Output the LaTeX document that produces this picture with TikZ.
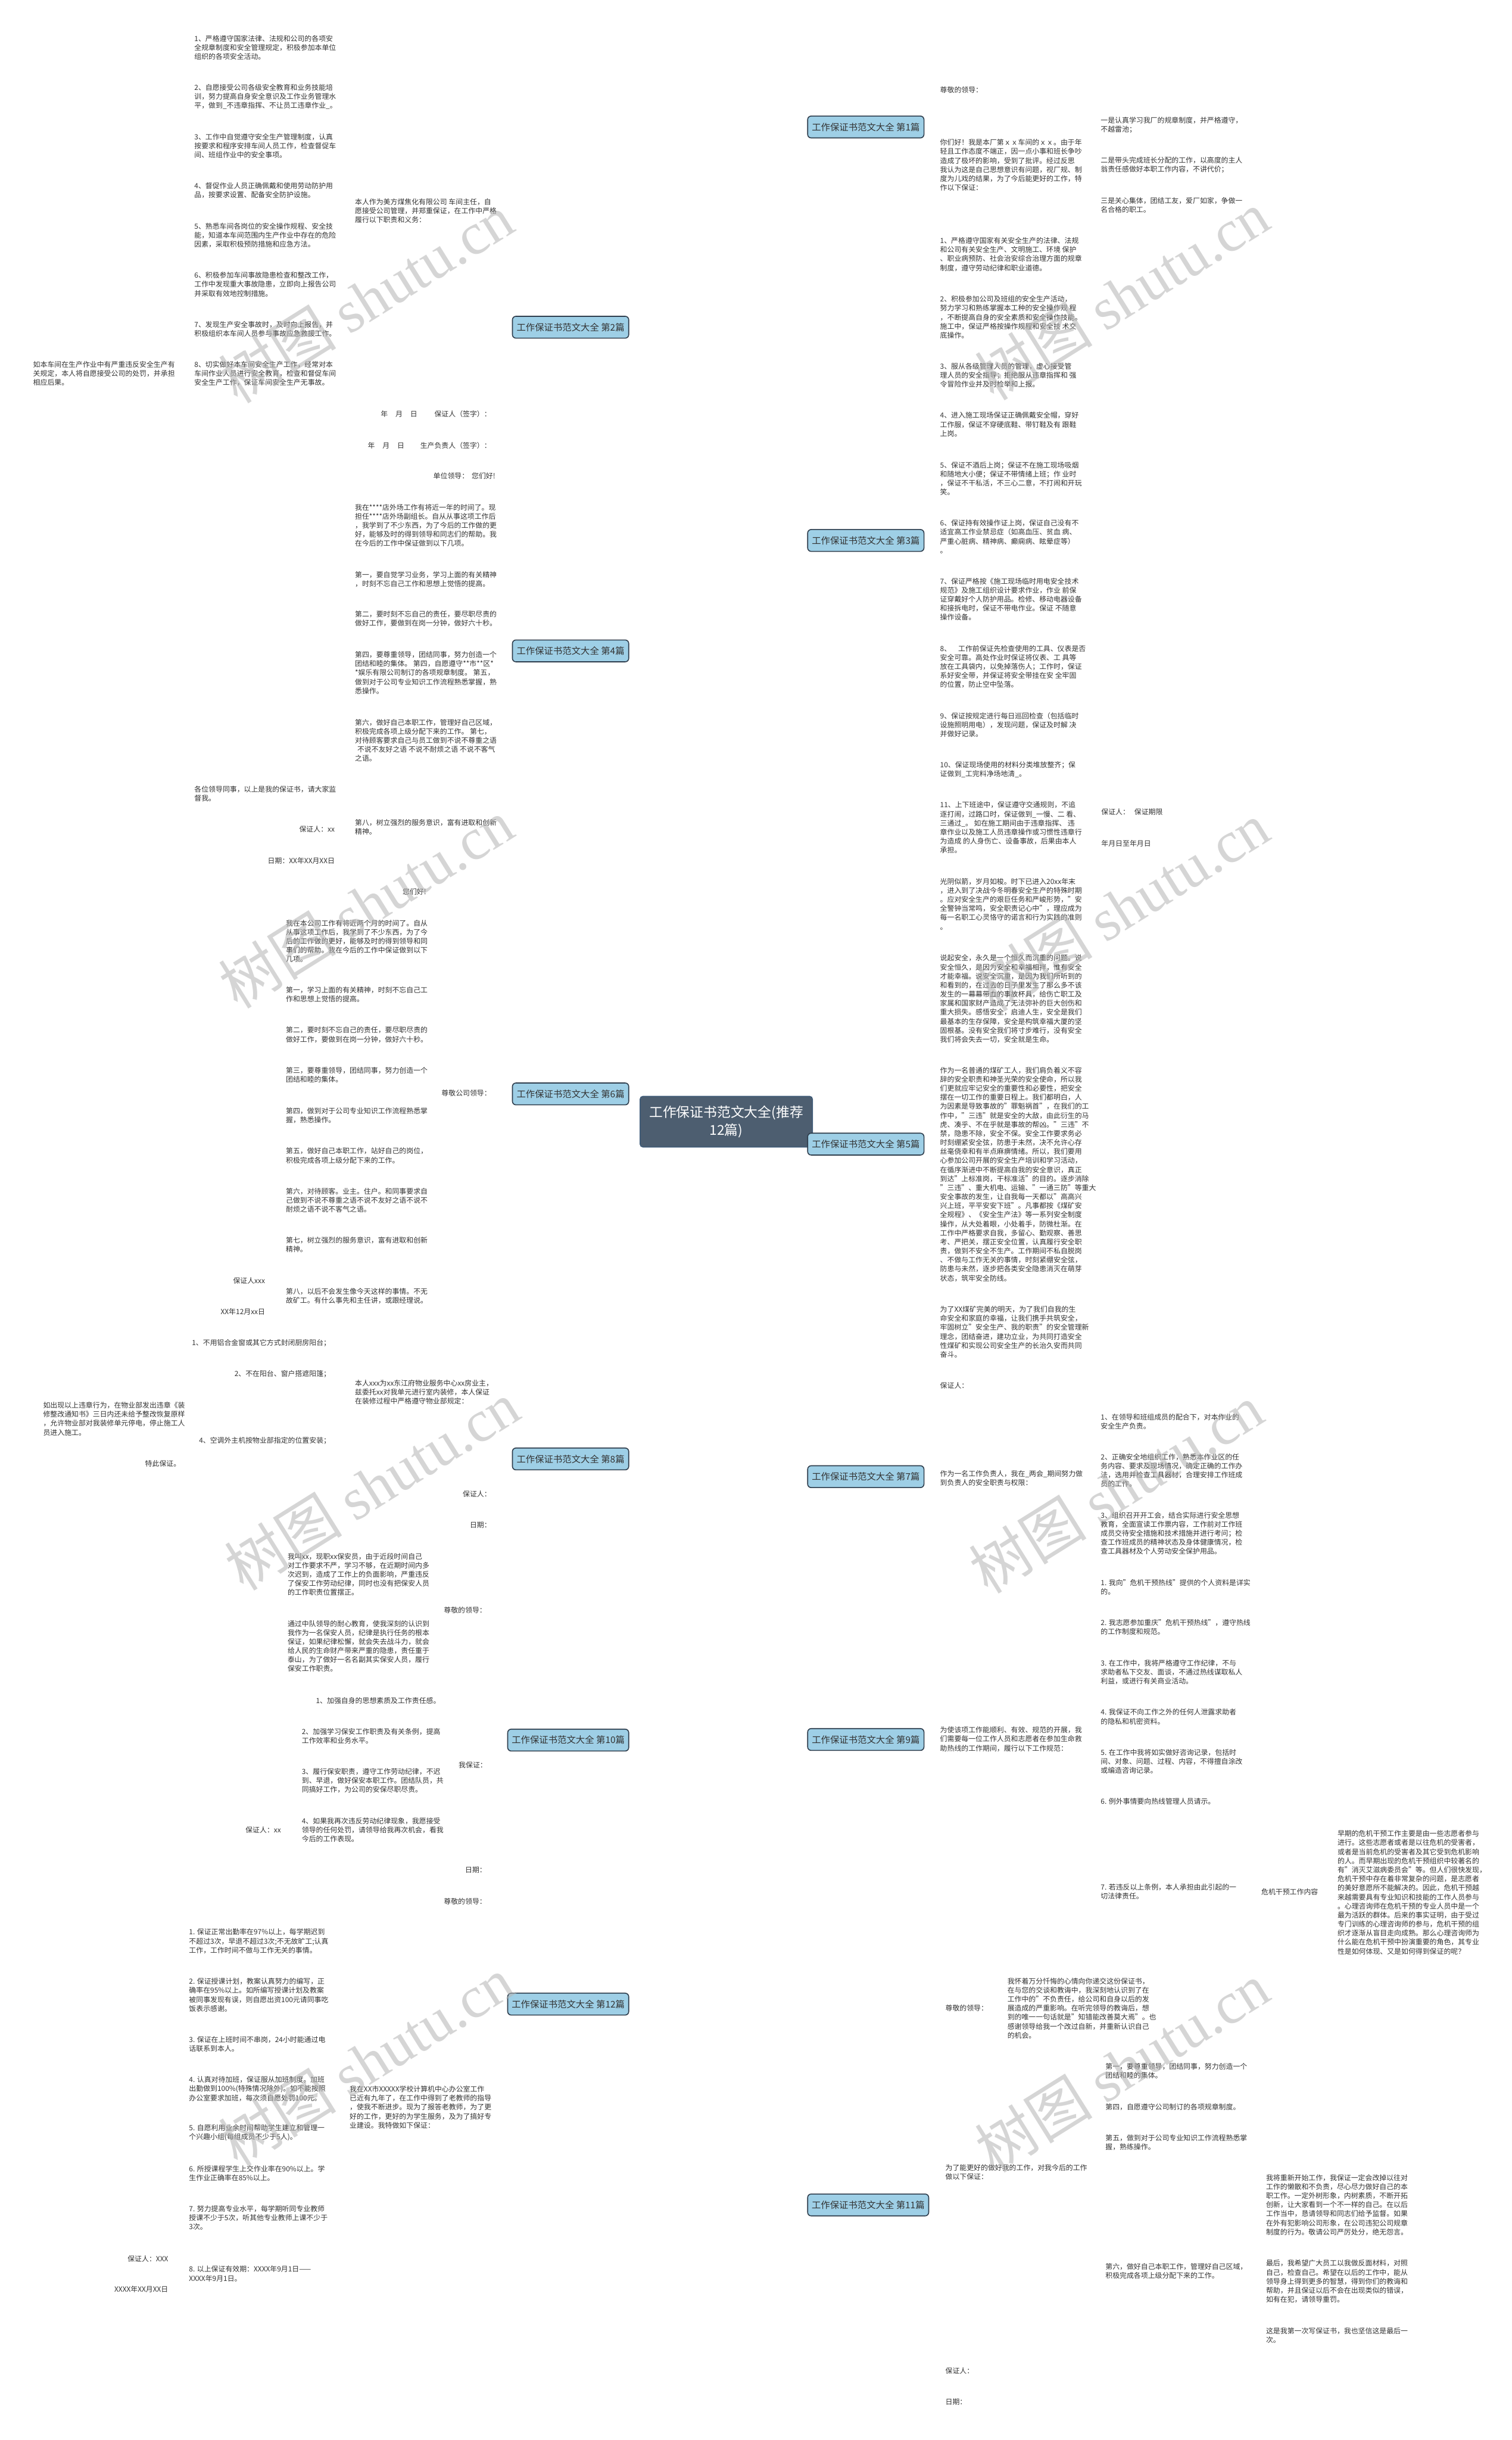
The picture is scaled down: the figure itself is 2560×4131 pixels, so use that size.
\documentclass[tikz,border=0pt]{standalone}
\usepackage{fontspec}
\setmainfont{Noto Sans CJK SC}
\newfontfamily\wmserif{Liberation Serif}
\usetikzlibrary{calc,backgrounds}

\definecolor{linec}{HTML}{2E3D4C}
\definecolor{boxfill}{HTML}{9ECFE6}
\definecolor{rootfill}{HTML}{4D5E70}
\definecolor{rootedge}{HTML}{3D5A78}
\definecolor{textc}{HTML}{333333}
\definecolor{markc}{HTML}{B4B4B4}

\tikzset{
  topic/.style={draw=linec, fill=boxfill, line width=1.6pt, rounded corners=6pt, minimum width=197pt, minimum height=37pt, inner xsep=6pt, font=\fontsize{15.5}{18}\selectfont, text=textc},
  note/.style={align=left, inner xsep=4pt, inner ysep=2pt, font=\fontsize{12}{15.3}\selectfont, text=textc},
  hub/.style={line width=3pt, draw=linec, to path={let \p1=(\tikztostart), \p2=(\tikztotarget) in .. controls (\x1,{0.5*\y1+0.5*\y2}) and ({0.5*\x1+0.5*\x2},\y2) .. (\tikztotarget)}},
  twig/.style={line width=1.6pt, draw=linec, to path={let \p1=(\tikztostart), \p2=(\tikztotarget) in .. controls ({0.5*\x1+0.5*\x2},\y1) and ({0.5*\x1+0.5*\x2},\y2) .. (\tikztotarget)}},
  stem/.style={line width=1.6pt, draw=linec},
  wmark/.style={rotate=32, text=markc, text opacity=0.55, font=\fontsize{100}{100}\selectfont}
}

\begin{document}
\begin{tikzpicture}[x=1pt, y=-1pt]
  \fill[white] (0,0) rectangle (2560,4131);
  \useasboundingbox (0,0) rectangle (2560,4131);

  % centre topic
  \node[fill=rootfill, draw=rootedge, line width=1.5pt, rounded corners=5pt, text=white, align=center, minimum width=292pt, minimum height=86pt, font=\fontsize{23}{31}\selectfont] (root) at (1230,1899) {工作保证书范文大全(推荐\\12篇)};

  % branch topics, left
  \node[topic, anchor=west] (p2) at (867,554) {工作保证书范文大全 第2篇};
  \node[topic, anchor=west] (p4) at (867,1102) {工作保证书范文大全 第4篇};
  \node[topic, anchor=west] (p6) at (867,1852) {工作保证书范文大全 第6篇};
  \node[topic, anchor=west] (p8) at (867,2470) {工作保证书范文大全 第8篇};
  \node[topic, anchor=west, minimum width=205pt] (p10) at (859,2946) {工作保证书范文大全 第10篇};
  \node[topic, anchor=west, minimum width=205pt] (p12) at (859,3393) {工作保证书范文大全 第12篇};

  % branch topics, right
  \node[topic, anchor=west] (p1) at (1367,215) {工作保证书范文大全 第1篇};
  \node[topic, anchor=west] (p3) at (1367,915) {工作保证书范文大全 第3篇};
  \node[topic, anchor=west] (p5) at (1367,1937) {工作保证书范文大全 第5篇};
  \node[topic, anchor=west] (p7) at (1367,2500) {工作保证书范文大全 第7篇};
  \node[topic, anchor=west] (p9) at (1367,2945) {工作保证书范文大全 第9篇};
  \node[topic, anchor=west, minimum width=205pt] (p11) at (1367,3733) {工作保证书范文大全 第11篇};

  % 第2篇
  \node[note, anchor=west] (p2a) at (597,357) {本人作为美方煤焦化有限公司 车间主任，自\\愿接受公司管理，并郑重保证，在工作中严格\\履行以下职责和义务：};
  \node[note, anchor=west] (p2a1) at (325,80.5) {1、严格遵守国家法律、法规和公司的各项安\\全规章制度和安全管理规定，积极参加本单位\\组织的各项安全活动。};
  \node[note, anchor=west] (p2a2) at (325,163.5) {2、自愿接受公司各级安全教育和业务技能培\\训，努力提高自身安全意识及工作业务管理水\\平，做到\_不违章指挥、不让员工违章作业\_。};
  \node[note, anchor=west] (p2a3) at (325,247) {3、工作中自觉遵守安全生产管理制度，认真\\按要求和程序安排车间人员工作，检查督促车\\间、班组作业中的安全事项。};
  \node[note, anchor=west] (p2a4) at (325,322.5) {4、督促作业人员正确佩戴和使用劳动防护用\\品，按要求设置、配备安全防护设施。};
  \node[note, anchor=west] (p2a5) at (325,398.5) {5、熟悉车间各岗位的安全操作规程、安全技\\能，知道本车间范围内生产作业中存在的危险\\因素，采取积极预防措施和应急方法。};
  \node[note, anchor=west] (p2a6) at (325,481.5) {6、积极参加车间事故隐患检查和整改工作，\\工作中发现重大事故隐患，立即向上报告公司\\并采取有效地控制措施。};
  \node[note, anchor=west] (p2a7) at (325,557.5) {7、发现生产安全事故时，及时向上报告，并\\积极组织本车间人员参与事故应急救援工作。};
  \node[note, anchor=west] (p2a8) at (325,632.5) {8、切实做好本车间安全生产工作，经常对本\\车间作业人员进行安全教育，检查和督促车间\\安全生产工作，保证车间安全生产无事故。};
  \node[note, anchor=west] (p2a8a) at (52,632.5) {如本车间在生产作业中有严重违反安全生产有\\关规定，本人将自愿接受公司的处罚，并承担\\相应后果。};
  \node[note, anchor=east] (p2b) at (836,701) {保证人（签字）：};
  \node[note, anchor=east] (p2b1) at (711,701) {年\hspace{13pt}月\hspace{13pt}日};
  \node[note, anchor=east] (p2c) at (836,754) {生产负责人（签字）：};
  \node[note, anchor=east] (p2c1) at (689,754) {年\hspace{13pt}月\hspace{13pt}日};

  % 第4篇
  \node[note, anchor=east] (p4a) at (843,806) {单位领导：\hspace{5pt}您们好!};
  \node[note, anchor=west] (p4b) at (597,889.5) {我在****店外场工作有将近一年的时间了。现\\担任****店外场副组长。自从从事这项工作后\\，我学到了不少东西，为了今后的工作做的更\\好，能够及时的得到领导和同志们的帮助。我\\在今后的工作中保证做到以下几项。};
  \node[note, anchor=west] (p4c) at (597,980.5) {第一，要自觉学习业务，学习上面的有关精神\\，时刻不忘自己工作和思想上觉悟的提高。};
  \node[note, anchor=west] (p4d) at (597,1047.5) {第二，要时刻不忘自己的责任，要尽职尽责的\\做好工作，要做到在岗一分钟，做好六十秒。};
  \node[note, anchor=west] (p4e) at (597,1139) {第四，要尊重领导，团结同事，努力创造一个\\团结和睦的集体。 第四，自愿遵守**市**区*\\{}*娱乐有限公司制订的各项规章制度。 第五，\\做到对于公司专业知识工作流程熟悉掌握，熟\\悉操作。};
  \node[note, anchor=west] (p4f) at (597,1253.5) {第六，做好自己本职工作，管理好自己区域，\\积极完成各项上级分配下来的工作。 第七，\\对待顾客要求自己与员工做到不说不尊重之语\\\hspace*{4pt}不说不友好之语 不说不耐烦之语 不说不客气\\之语。};
  \node[note, anchor=west] (p4g) at (597,1400) {第八，树立强烈的服务意识，富有进取和创新\\精神。};
  \node[note, anchor=west] (p4g1) at (325,1343.5) {各位领导同事，以上是我的保证书，请大家监\\督我。};
  \node[note, anchor=east] (p4g2) at (571,1404) {保证人：xx};
  \node[note, anchor=east] (p4g3) at (571,1457) {日期：XX年XX月XX日};

  % 第6篇
  \node[note, anchor=east] (p6a) at (836,1851) {尊敬公司领导：};
  \node[note, anchor=east] (p6a1) at (726,1510) {您们好!};
  \node[note, anchor=west] (p6a2) at (480,1593.5) {我在本公司工作有将近两个月的时间了。自从\\从事这项工作后，我学到了不少东西，为了今\\后的工作做的更好，能够及时的得到领导和同\\事们的帮助。我在今后的工作中保证做到以下\\几项。};
  \node[note, anchor=west] (p6a3) at (480,1683.5) {第一，学习上面的有关精神，时刻不忘自己工\\作和思想上觉悟的提高。};
  \node[note, anchor=west] (p6a4) at (480,1752) {第二，要时刻不忘自己的责任，要尽职尽责的\\做好工作，要做到在岗一分钟，做好六十秒。};
  \node[note, anchor=west] (p6a5) at (480,1820) {第三，要尊重领导，团结同事，努力创造一个\\团结和睦的集体。};
  \node[note, anchor=west] (p6a6) at (480,1888.5) {第四，做到对于公司专业知识工作流程熟悉掌\\握，熟悉操作。};
  \node[note, anchor=west] (p6a7) at (480,1956.5) {第五，做好自己本职工作，站好自己的岗位，\\积极完成各项上级分配下来的工作。};
  \node[note, anchor=west] (p6a8) at (480,2032) {第六，对待顾客。业主。住户。和同事要求自\\己做到不说不尊重之语不说不友好之语不说不\\耐烦之语不说不客气之语。};
  \node[note, anchor=west] (p6a9) at (480,2107.5) {第七，树立强烈的服务意识，富有进取和创新\\精神。};
  \node[note, anchor=west] (p6a10) at (480,2194.5) {第八，以后不会发生像今天这样的事情。不无\\故矿工。有什么事先和主任讲，或跟经理说。};
  \node[note, anchor=east] (p6a10a) at (453,2168) {保证人xxx};
  \node[note, anchor=east] (p6a10b) at (453,2221) {XX年12月xx日};

  % 第8篇
  \node[note, anchor=west] (p8a) at (597,2357) {本人xxx为xx东江府物业服务中心xx房业主，\\兹委托xx对我单元进行室内装修，本人保证\\在装修过程中严格遵守物业部规定：};
  \node[note, anchor=east] (p8a1) at (564,2274) {1、不用铝合金窗或其它方式封闭厨房阳台；};
  \node[note, anchor=east] (p8a2) at (564,2326) {2、不在阳台、窗户搭遮阳篷；};
  \node[note, anchor=east] (p8a3) at (564,2439) {4、空调外主机按物业部指定的位置安装；};
  \node[note, anchor=west] (p8a3a) at (69,2402) {如出现以上违章行为，在物业部发出违章《装\\修整改通知书》三日内还未给予整改恢复原样\\，允许物业部对我装修单元停电，停止施工人\\员进入施工。};
  \node[note, anchor=east] (p8a3b) at (310,2478) {特此保证。};
  \node[note, anchor=east] (p8b) at (836,2529) {保证人：};
  \node[note, anchor=east] (p8c) at (836,2582) {日期：};

  % 第10篇
  \node[note, anchor=east] (p10a) at (828,2726) {尊敬的领导：};
  \node[note, anchor=west] (p10a1) at (483,2665.5) {我叫xx，现职xx保安员，由于近段时间自己\\对工作要求不严，学习不够，在近期时间内多\\次迟到，造成了工作上的负面影响，严重违反\\了保安工作劳动纪律，同时也没有把保安人员\\的工作职责位置摆正。};
  \node[note, anchor=west] (p10a2) at (483,2787) {通过中队领导的耐心教育，使我深刻的认识到\\我作为一名保安人员，纪律是执行任务的根本\\保证，如果纪律松懈，就会失去战斗力，就会\\给人民的生命财产带来严重的隐患，责任重于\\泰山，为了做好一名名副其实保安人员，履行\\保安工作职责。};
  \node[note, anchor=east] (p10b) at (829,2988) {我保证：};
  \node[note, anchor=east] (p10b1) at (750,2879) {1、加强自身的思想素质及工作责任感。};
  \node[note, anchor=west] (p10b2) at (507,2939.5) {2、加强学习保安工作职责及有关条例，提高\\工作效率和业务水平。};
  \node[note, anchor=west] (p10b3) at (507,3014.5) {3、履行保安职责，遵守工作劳动纪律，不迟\\到、早退，做好保安本职工作。团结队员，共\\同搞好工作，为公司的安保尽职尽责。};
  \node[note, anchor=west] (p10b4) at (507,3098) {4、如果我再次违反劳动纪律现象，我愿接受\\领导的任何处罚，请领导给我再次机会，看我\\今后的工作表现。};
  \node[note, anchor=east] (p10b4a) at (480,3098) {保证人：xx};
  \node[note, anchor=east] (p10c) at (828,3166) {日期：};

  % 第12篇
  \node[note, anchor=east] (p12a) at (828,3219) {尊敬的领导：};
  \node[note, anchor=west] (p12b) at (588,3567.5) {我在XX市XXXXX学校计算机中心办公室工作\\已近有九年了，在工作中得到了老教师的指导\\，使我不断进步。现为了报答老教师，为了更\\好的工作，更好的为学生服务，及为了搞好专\\业建设。我特做如下保证：};
  \node[note, anchor=west] (p12b1) at (316,3286.5) {1. 保证正常出勤率在97\%以上，每学期迟到\\不超过3次，早退不超过3次;不无故旷工;认真\\工作，工作时间不做与工作无关的事情。};
  \node[note, anchor=west] (p12b2) at (316,3377.5) {2. 保证授课计划，教案认真努力的编写，正\\确率在95\%以上。如所编写授课计划及教案\\被同事发现有误，则自愿出资100元请同事吃\\饭表示感谢。};
  \node[note, anchor=west] (p12b3) at (316,3461) {3. 保证在上班时间不串岗，24小时能通过电\\话联系到本人。};
  \node[note, anchor=west] (p12b4) at (316,3536.5) {4. 认真对待加班，保证服从加班制度。加班\\出勤做到100\%(特殊情况除外)。如不能按照\\办公室要求加班，每次须自愿处罚100元。};
  \node[note, anchor=west] (p12b5) at (316,3611) {5. 自愿利用业余时间帮助学生建立和管理一\\个兴趣小组(每组成员不少于5人)。};
  \node[note, anchor=west] (p12b6) at (316,3679.5) {6. 所授课程学生上交作业率在90\%以上。学\\生作业正确率在85\%以上。};
  \node[note, anchor=west] (p12b7) at (316,3754.5) {7. 努力提高专业水平，每学期听同专业教师\\授课不少于5次，听其他专业教师上课不少于\\3次。};
  \node[note, anchor=west] (p12b8) at (316,3849.5) {8. 以上保证有效期：XXXX年9月1日——\\XXXX年9月1日。};
  \node[note, anchor=east] (p12b8a) at (289,3824) {保证人：XXX};
  \node[note, anchor=east] (p12b8b) at (289,3876) {XXXX年XX月XX日};

  % 第1篇
  \node[note, anchor=west] (p1a) at (1588,152) {尊敬的领导：};
  \node[note, anchor=west] (p1b) at (1588,279.5) {你们好！我是本厂第ｘｘ车间的ｘｘ。由于年\\轻且工作态度不端正，因一点小事和班长争吵\\造成了极坏的影响，受到了批评。经过反思\\我认为这是自己思想意识有问题，视厂规、制\\度为儿戏的结果，为了今后能更好的工作，特\\作以下保证：};
  \node[note, anchor=west] (p1b1) at (1860,212) {一是认真学习我厂的规章制度，并严格遵守，\\不越雷池；};
  \node[note, anchor=west] (p1b2) at (1860,279.5) {二是带头完成班长分配的工作，以高度的主人\\翁责任感做好本职工作内容，不讲代价；};
  \node[note, anchor=west] (p1b3) at (1860,347.5) {三是关心集体，团结工友，爱厂如家，争做一\\名合格的职工。};

  % 第3篇
  \node[note, anchor=west] (p3a) at (1588,430.5) {1、严格遵守国家有关安全生产的法律、法规\\和公司有关安全生产、文明施工、环境 保护\\、职业病预防、社会治安综合治理方面的规章\\制度，遵守劳动纪律和职业道德。};
  \node[note, anchor=west] (p3b) at (1588,537) {2、积极参加公司及班组的安全生产活动，\\努力学习和熟练掌握本工种的安全操作规 程\\，不断提高自身的安全素质和安全操作技能。\\施工中，保证严格按操作规程和安全技 术交\\底操作。};
  \node[note, anchor=west] (p3c) at (1588,635.5) {3、服从各级管理人员的管理，虚心接受管\\理人员的安全指导；拒绝服从违章指挥和 强\\令冒险作业并及时检举和上报。};
  \node[note, anchor=west] (p3d) at (1588,718.5) {4、进入施工现场保证正确佩戴安全帽，穿好\\工作服，保证不穿硬底鞋、带钉鞋及有 跟鞋\\上岗。};
  \node[note, anchor=west] (p3e) at (1588,810.5) {5、保证不酒后上岗；保证不在施工现场吸烟\\和随地大小便；保证不带情绪上班；作 业时\\，保证不干私活，不三心二意，不打闹和开玩\\笑。};
  \node[note, anchor=west] (p3f) at (1588,908.5) {6、保证持有效操作证上岗，保证自己没有不\\适宜高工作业禁忌症（如高血压、贫血 病、\\严重心脏病、精神病、癫痫病、眩晕症等）\\。};
  \node[note, anchor=west] (p3g) at (1588,1014.5) {7、保证严格按《施工现场临时用电安全技术\\规范》及施工组织设计要求作业，作业 前保\\证穿戴好个人防护用品。检修、移动电器设备\\和接拆电时，保证不带电作业。保证 不随意\\操作设备。};
  \node[note, anchor=west] (p3h) at (1588,1128.5) {8、\hspace{12pt}工作前保证先检查使用的工具、仪表是否\\安全可靠。高处作业时保证将仪表、工 具等\\放在工具袋内，以免掉落伤人；工作时，保证\\系好安全带，并保证将安全带挂在安 全牢固\\的位置，防止空中坠落。};
  \node[note, anchor=west] (p3i) at (1588,1227) {9、保证按规定进行每日巡回检查（包括临时\\设施照明用电），发现问题，保证及时解 决\\并做好记录。};
  \node[note, anchor=west] (p3j) at (1588,1303) {10、保证现场使用的材料分类堆放整齐；保\\证做到\_工完料净场地清\_。};
  \node[note, anchor=west] (p3k) at (1588,1401) {11、上下班途中，保证遵守交通规则，不追\\逐打闹，过路口时，保证做到\_一慢、二 看、\\三通过\_。 如在施工期间由于违章指挥、 违\\章作业以及施工人员违章操作或习惯性违章行\\为造成 的人身伤亡、设备事故，后果由本人\\承担。};
  \node[note, anchor=west] (p3k1) at (1861,1375) {保证人：\hspace{8pt}保证期限};
  \node[note, anchor=west] (p3k2) at (1861,1428) {年月日至年月日};

  % 第5篇
  \node[note, anchor=west] (p5a) at (1588,1530.5) {光阴似箭，岁月如梭。时下已进入20xx年末\\，进入到了决战今冬明春安全生产的特殊时期\\。应对安全生产的艰巨任务和严峻形势，"安\\全警钟当常鸣，安全职责记心中"，理应成为\\每一名职工心灵恪守的诺言和行为实践的准则\\。};
  \node[note, anchor=west] (p5b) at (1588,1691) {说起安全，永久是一个恒久而沉重的问题。说\\安全恒久，是因为安全和幸福相拌，惟有安全\\才能幸福。说安全沉重，是因为我们所听到的\\和看到的，在过去的日子里发生了那么多不该\\发生的一幕幕带血的事故杯具，给伤亡职工及\\家属和国家财产造成了无法弥补的巨大创伤和\\重大损失。感悟安全，启迪人生，安全是我们\\最基本的生存保障，安全是构筑幸福大厦的坚\\固根基。没有安全我们将寸步难行，没有安全\\我们将会失去一切，安全就是生命。};
  \node[note, anchor=west] (p5c) at (1588,1988) {作为一名普通的煤矿工人，我们肩负着义不容\\辞的安全职责和神圣光荣的安全使命，所以我\\们更就应牢记安全的重要性和必要性，把安全\\摆在一切工作的重要日程上。我们都明白，人\\为因素是导致事故的"罪魁祸首"，在我们的工\\作中，"三违"就是安全的大敌，由此衍生的马\\虎、凑乎、不在乎就是事故的帮凶。"三违"不\\禁，隐患不除，安全不保。安全工作要求务必\\时刻绷紧安全弦，防患于未然，决不允许心存\\丝毫侥幸和有半点麻痹情绪。所以，我们要用\\心参加公司开展的安全生产培训和学习活动，\\在循序渐进中不断提高自我的安全意识，真正\\到达"上标准岗，干标准活"的目的。逐步消除\\"三违"、重大机电、运输、"一通三防"等重大\\安全事故的发生，让自我每一天都以"高高兴\\兴上班，平平安安下班"。凡事都按《煤矿安\\全规程》、《安全生产法》等一系列安全制度\\操作，从大处着眼，小处着手，防微杜渐。在\\工作中严格要求自我，多留心、勤观察、善思\\考、严把关，摆正安全位置，认真履行安全职\\责，做到不安全不生产。工作期间不私自脱岗\\、不做与工作无关的事情，时刻紧绷安全弦，\\防患与未然，逐步把各类安全隐患消灭在萌芽\\状态，筑牢安全防线。};
  \node[note, anchor=west] (p5d) at (1588,2255) {为了XX煤矿完美的明天，为了我们自我的生\\命安全和家庭的幸福，让我们携手共筑安全，\\牢固树立"安全生产、我的职责"的安全管理新\\理念，团结奋进，建功立业，为共同打造安全\\性煤矿和实现公司安全生产的长治久安而共同\\奋斗。};
  \node[note, anchor=west] (p5e) at (1588,2346) {保证人：};

  % 第7篇
  \node[note, anchor=west] (p7a) at (1588,2502.5) {作为一名工作负责人，我在\_两会\_期间努力做\\到负责人的安全职责与权限：};
  \node[note, anchor=west] (p7a1) at (1860,2407) {1、在领导和班组成员的配合下，对本作业的\\安全生产负责。};
  \node[note, anchor=west] (p7a2) at (1860,2489.5) {2、正确安全地组织工作，熟悉本作业区的任\\务内容、要求及现场情况，确定正确的工作办\\法，选用并检查工具器材，合理安排工作班成\\员的工作。};
  \node[note, anchor=west] (p7a3) at (1860,2596) {3、组织召开开工会，结合实际进行安全思想\\教育，全面宣读工作票内容，工作前对工作班\\成员交待安全措施和技术措施并进行考问；检\\查工作班成员的精神状态及身体健康情况，检\\查工具器材及个人劳动安全保护用品。};

  % 第9篇
  \node[note, anchor=west] (p9a) at (1588,2944.5) {为使该项工作能顺利、有效、规范的开展，我\\们需要每一位工作人员和志愿者在参加生命救\\助热线的工作期间，履行以下工作规范：};
  \node[note, anchor=west] (p9a1) at (1860,2687) {1. 我向"危机干预热线"提供的个人资料是详实\\的。};
  \node[note, anchor=west] (p9a2) at (1860,2755) {2. 我志愿参加重庆"危机干预热线"，遵守热线\\的工作制度和规范。};
  \node[note, anchor=west] (p9a3) at (1860,2831) {3. 在工作中，我将严格遵守工作纪律，不与\\求助者私下交友、面谈，不通过热线谋取私人\\利益，或进行有关商业活动。};
  \node[note, anchor=west] (p9a4) at (1860,2906.5) {4. 我保证不向工作之外的任何人泄露求助者\\的隐私和机密资料。};
  \node[note, anchor=west] (p9a5) at (1860,2982.5) {5. 在工作中我将如实做好咨询记录，包括时\\间、对象、问题、过程、内容，不得擅自涂改\\或编造咨询记录。};
  \node[note, anchor=west] (p9a6) at (1860,3050) {6. 例外事情要向热线管理人员请示。};
  \node[note, anchor=west] (p9a7) at (1860,3202.5) {7. 若违反以上条例，本人承担由此引起的一\\切法律责任。};
  \node[note, anchor=west] (p9a7a) at (2132,3203) {危机干预工作内容};
  \node[note, anchor=west] (p9a7a1) at (2261,3204) {早期的危机干预工作主要是由一些志愿者参与\\进行。这些志愿者或者是以往危机的受害者，\\或者是当前危机的受害者及其它受到危机影响\\的人。而早期出现的危机干预组织中较著名的\\有"消灭艾滋病委员会"等。但人们很快发现，\\危机干预中存在着非常复杂的问题，是志愿者\\的美好意愿所不能解决的。因此，危机干预越\\来越需要具有专业知识和技能的工作人员参与\\。心理咨询师在危机干预的专业人员中是一个\\最为活跃的群体。后来的事实证明，由于受过\\专门训练的心理咨询师的参与，危机干预的组\\织才逐渐从盲目走向成熟。那么心理咨询师为\\什么能在危机干预中扮演重要的角色，其专业\\性是如何体现、又是如何得到保证的呢？};

  % 第11篇
  \node[note, anchor=west] (p11a) at (1597,3400) {尊敬的领导：};
  \node[note, anchor=west] (p11a1) at (1702,3400) {我怀着万分忏悔的心情向你递交这份保证书，\\在与您的交谈和教诲中，我深刻地认识到了在\\工作中的"不负责任，给公司和自身以后的发\\展造成的严重影响。在听完领导的教诲后，想\\到的唯一一句话就是"知错能改善莫大焉"。也\\感谢领导给我一个改过自新，并重新认识自己\\的机会。};
  \node[note, anchor=west] (p11b) at (1597,3677.5) {为了能更好的做好我的工作，对我今后的工作\\做以下保证：};
  \node[note, anchor=west] (p11b1) at (1868,3506.5) {第一，要尊重领导，团结同事，努力创造一个\\团结和睦的集体。};
  \node[note, anchor=west] (p11b2) at (1868,3567) {第四，自愿遵守公司制订的各项规章制度。};
  \node[note, anchor=west] (p11b3) at (1868,3627.5) {第五，做到对于公司专业知识工作流程熟悉掌\\握，熟练操作。};
  \node[note, anchor=west] (p11b4) at (1868,3845) {第六，做好自己本职工作，管理好自己区域，\\积极完成各项上级分配下来的工作。};
  \node[note, anchor=west] (p11b4a) at (2140,3733) {我将重新开始工作，我保证一定会改掉以往对\\工作的懒散和不负责，尽心尽力做好自己的本\\职工作。一定外树形象，内树素质，不断开拓\\创新，让大家看到一个不一样的自己。在以后\\工作当中，恳请领导和同志们给予监督。如果\\在外有犯影响公司形象，在公司违犯公司规章\\制度的行为。敬请公司严厉处分，绝无怨言。};
  \node[note, anchor=west] (p11b4b) at (2140,3862.5) {最后，我希望广大员工以我做反面材料，对照\\自己，检查自己。希望在以后的工作中，能从\\领导身上得到更多的智慧，得到你们的教诲和\\帮助，并且保证以后不会在出现类似的错误，\\如有在犯，请领导重罚。};
  \node[note, anchor=west] (p11b4c) at (2140,3954) {这是我第一次写保证书，我也坚信这是最后一\\次。};
  \node[note, anchor=west] (p11c) at (1597,4014) {保证人：};
  \node[note, anchor=west] (p11d) at (1597,4066) {日期：};

  \begin{scope}[on background layer]
    % centre to branches
    \foreach \b in {p1,p3,p5,p7,p9,p11} \draw[hub] (root.center) to (\b.west);
    \foreach \b in {p2,p4,p6,p8,p10,p12} \draw[hub] (root.center) to (\b.east);

    % left side
    \foreach \c in {p2a,p2b,p2c} \draw[twig] (p2.west) to (\c.east);
    \foreach \c in {p2a1,p2a2,p2a3,p2a4,p2a5,p2a6,p2a7,p2a8} \draw[twig] (p2a.west) to (\c.east);
    \draw[stem] (p2a8.west) -- (p2a8a.east);
    \draw[stem] (p2b.west) -- (p2b1.east);
    \draw[stem] (p2c.west) -- (p2c1.east);
    \foreach \c in {p4a,p4b,p4c,p4d,p4e,p4f,p4g} \draw[twig] (p4.west) to (\c.east);
    \foreach \c in {p4g1,p4g2,p4g3} \draw[twig] (p4g.west) to (\c.east);
    \draw[stem] (p6.west) -- (p6a.east);
    \foreach \c in {p6a1,p6a2,p6a3,p6a4,p6a5,p6a6,p6a7,p6a8,p6a9,p6a10} \draw[twig] (p6a.west) to (\c.east);
    \foreach \c in {p6a10a,p6a10b} \draw[twig] (p6a10.west) to (\c.east);
    \foreach \c in {p8a,p8b,p8c} \draw[twig] (p8.west) to (\c.east);
    \foreach \c in {p8a1,p8a2,p8a3} \draw[twig] (p8a.west) to (\c.east);
    \foreach \c in {p8a3a,p8a3b} \draw[twig] (p8a3.west) to (\c.east);
    \foreach \c in {p10a,p10b,p10c} \draw[twig] (p10.west) to (\c.east);
    \foreach \c in {p10a1,p10a2} \draw[twig] (p10a.west) to (\c.east);
    \foreach \c in {p10b1,p10b2,p10b3,p10b4} \draw[twig] (p10b.west) to (\c.east);
    \draw[stem] (p10b4.west) -- (p10b4a.east);
    \foreach \c in {p12a,p12b} \draw[twig] (p12.west) to (\c.east);
    \foreach \c in {p12b1,p12b2,p12b3,p12b4,p12b5,p12b6,p12b7,p12b8} \draw[twig] (p12b.west) to (\c.east);
    \foreach \c in {p12b8a,p12b8b} \draw[twig] (p12b8.west) to (\c.east);

    % right side
    \foreach \c in {p1a,p1b} \draw[twig] (p1.east) to (\c.west);
    \foreach \c in {p1b1,p1b2,p1b3} \draw[twig] (p1b.east) to (\c.west);
    \foreach \c in {p3a,p3b,p3c,p3d,p3e,p3f,p3g,p3h,p3i,p3j,p3k} \draw[twig] (p3.east) to (\c.west);
    \foreach \c in {p3k1,p3k2} \draw[twig] (p3k.east) to (\c.west);
    \foreach \c in {p5a,p5b,p5c,p5d,p5e} \draw[twig] (p5.east) to (\c.west);
    \draw[stem] (p7.east) -- (p7a.west);
    \foreach \c in {p7a1,p7a2,p7a3} \draw[twig] (p7a.east) to (\c.west);
    \draw[stem] (p9.east) -- (p9a.west);
    \foreach \c in {p9a1,p9a2,p9a3,p9a4,p9a5,p9a6,p9a7} \draw[twig] (p9a.east) to (\c.west);
    \draw[stem] (p9a7.east) -- (p9a7a.west);
    \draw[stem] (p9a7a.east) -- (p9a7a1.west);
    \foreach \c in {p11a,p11b,p11c,p11d} \draw[twig] (p11.east) to (\c.west);
    \draw[stem] (p11a.east) -- (p11a1.west);
    \foreach \c in {p11b1,p11b2,p11b3,p11b4} \draw[twig] (p11b.east) to (\c.west);
    \foreach \c in {p11b4a,p11b4b,p11b4c} \draw[twig] (p11b4.east) to (\c.west);
  \end{scope}

  % watermark
  \node[wmark] (wm1) at (620,505) {树图 {\wmserif shutu.cn}};
  \node[wmark] (wm2) at (1900,500) {树图 {\wmserif shutu.cn}};
  \node[wmark] (wm3) at (620,1530) {树图 {\wmserif shutu.cn}};
  \node[wmark] (wm4) at (1900,1535) {树图 {\wmserif shutu.cn}};
  \node[wmark] (wm5) at (630,2515) {树图 {\wmserif shutu.cn}};
  \node[wmark] (wm6) at (1890,2520) {树图 {\wmserif shutu.cn}};
  \node[wmark] (wm7) at (620,3490) {树图 {\wmserif shutu.cn}};
  \node[wmark] (wm8) at (1900,3500) {树图 {\wmserif shutu.cn}};
\end{tikzpicture}
\end{document}
